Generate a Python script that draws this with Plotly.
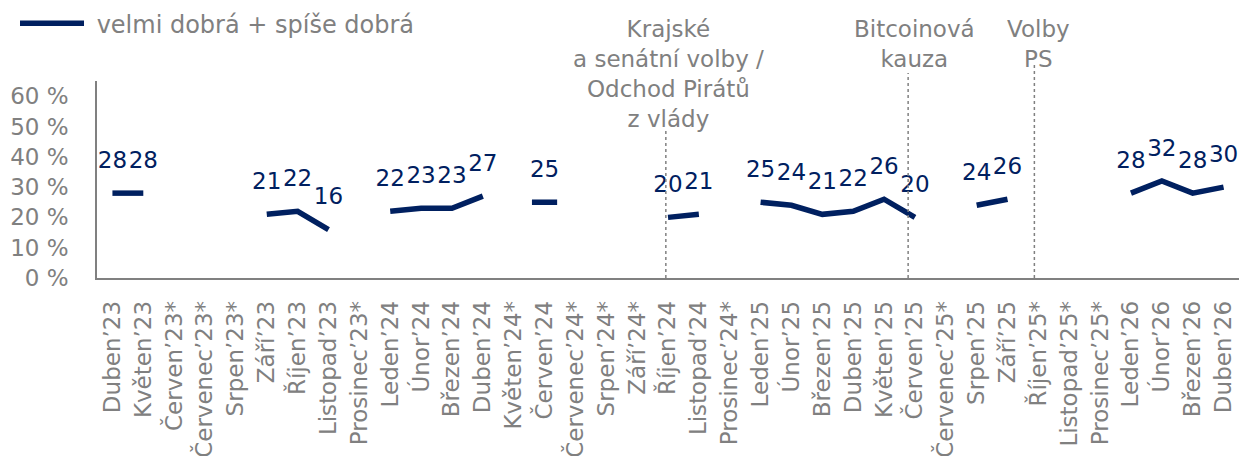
import plotly.graph_objects as go

categories = ["Duben’23", "Květen’23", "Červen’23*", "Červenec’23*", "Srpen’23*", "Září’23",
              "Říjen’23", "Listopad’23", "Prosinec’23*", "Leden’24", "Únor’24", "Březen’24",
              "Duben’24", "Květen’24*", "Červen’24", "Červenec’24*", "Srpen’24*", "Září’24*",
              "Říjen’24", "Listopad’24", "Prosinec’24*", "Leden’25", "Únor’25", "Březen’25",
              "Duben’25", "Květen’25", "Červen’25", "Červenec’25*", "Srpen’25", "Září’25",
              "Říjen’25*", "Listopad’25*", "Prosinec’25*", "Leden’26", "Únor’26", "Březen’26",
              "Duben’26"]
values = [28, 28, None, None, None, 21,
          22, 16, None, 22, 23, 23,
          27, None, 25, None, None, None,
          20, 21, None, 25, 24, 21,
          22, 26, 20, None, 24, 26,
          None, None, None, 28, 32, 28,
          30]
series_name = "velmi dobrá + spíše dobrá"
y_ticks = [0, 10, 20, 30, 40, 50, 60]
y_tick_labels = ["0 %", "10 %", "20 %", "30 %", "40 %", "50 %", "60 %"]
# events: (category, label, line offset in categories, line top in paper units)
events = [("Říjen’24", "Krajské<br>a senátní volby /<br>Odchod Pirátů<br>z vlády", -0.07, 0.75),
          ("Červen’25", "Bitcoinová<br>kauza", -0.22, 1.04),
          ("Říjen’25*", "Volby<br>PS", -0.13, 1.09)]

NAVY = "#002060"
GRAY = "#808080"
FONT = "DejaVu Sans"
FS = 23

# isolated points (no neighbours) are shown as a short dash
iso_x, iso_y = [], []
for i, v in enumerate(values):
    if v is None:
        continue
    prev_v = values[i - 1] if i > 0 else None
    next_v = values[i + 1] if i < len(values) - 1 else None
    if prev_v is None and next_v is None:
        iso_x.append(categories[i])
        iso_y.append(v)

fig = go.Figure()
fig.add_trace(go.Scatter(
    x=categories, y=values, name="\u00a0" + series_name, mode="lines+markers+text",
    line=dict(color=NAVY, width=5.5),
    marker=dict(size=30, color="rgba(0,0,0,0)"),
    text=[("" if v is None else str(v)) for v in values],
    textposition="top center",
    textfont=dict(color=NAVY, size=FS, family=FONT),
    connectgaps=False, cliponaxis=False, hoverinfo="skip",
))
fig.add_trace(go.Scatter(
    x=iso_x, y=iso_y, mode="markers", showlegend=False,
    marker=dict(symbol="line-ew", size=18, line=dict(color=NAVY, width=5.5)),
    cliponaxis=False, hoverinfo="skip",
))

for cat, label, off, top in events:
    idx = categories.index(cat)
    fig.add_shape(type="line", xref="x", yref="paper", x0=idx + off, x1=idx + off,
                  y0=0, y1=top, line=dict(color=GRAY, width=1.5, dash="dot"))
    fig.add_annotation(x=idx, xref="x", y=1.34, yref="paper", yanchor="top",
                       text=label, showarrow=False, align="center",
                       font=dict(color=GRAY, size=FS, family=FONT))

fig.update_layout(
    width=1240, height=456,
    margin=dict(l=97, r=1, t=81, b=178),
    paper_bgcolor="white", plot_bgcolor="white",
    font=dict(family=FONT, color=GRAY, size=FS),
    showlegend=True,
    legend=dict(x=-0.0718, y=1.405, xref="paper", yref="paper", xanchor="left", yanchor="top",
                font=dict(color=GRAY, size=24, family=FONT), itemwidth=64,
                bgcolor="rgba(0,0,0,0)"),
    xaxis=dict(type="category", categoryorder="array", categoryarray=categories,
               range=[-0.5, len(categories) - 0.5],
               showline=True, linecolor=GRAY, linewidth=1.5, showgrid=False,
               tickangle=-90, ticks="", tickfont=dict(color=GRAY, size=FS, family=FONT),
               ticklabelstandoff=12, automargin=False, zeroline=False),
    yaxis=dict(range=[0, 65], tickvals=y_ticks, ticktext=y_tick_labels,
               showline=True, linecolor=GRAY, linewidth=1.5, showgrid=False,
               ticks="", tickfont=dict(color=GRAY, size=FS, family=FONT),
               ticklabelstandoff=22, automargin=False, zeroline=False),
)

fig.write_html("out.html", config={"displayModeBar": False},
               post_script="document.body.style.margin='0';document.body.style.overflow='hidden';")
